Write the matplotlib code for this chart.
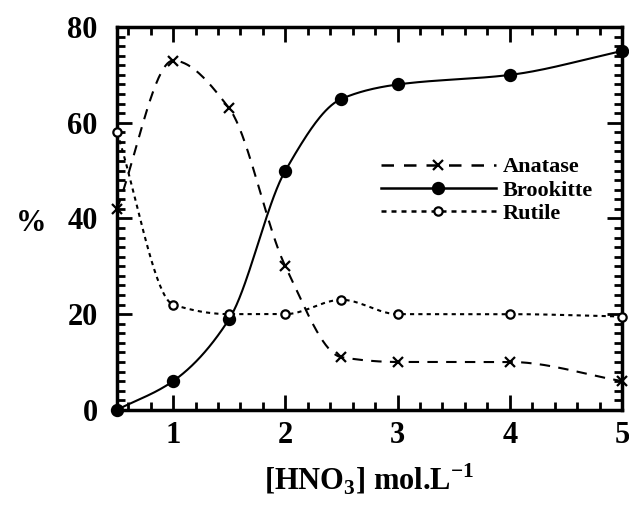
import numpy as np
import matplotlib
matplotlib.use("Agg")
import matplotlib.pyplot as plt
from matplotlib.ticker import MultipleLocator

plt.rcParams['font.family'] = 'Liberation Serif'
plt.rcParams['font.weight'] = 'bold'
plt.rcParams['axes.labelweight'] = 'bold'
plt.rcParams['mathtext.fontset'] = 'custom'
plt.rcParams['mathtext.rm'] = 'Liberation Serif:bold'
plt.rcParams['mathtext.bf'] = 'Liberation Serif:bold'

# concentracion de HNO3 (mol/L)
hno3 = [0.5, 1, 1.5, 2, 2.5, 3, 4, 5]
anatase = [42, 73, 63, 30, 11, 10, 10, 6]
brookite = [0, 6, 19, 50, 65, 68, 70, 75]
rutile = [58, 22, 20, 20, 23, 20, 20, 19.5]


# curva suave monotona entre los puntos (Fritsch-Carlson)
def smooth(x, y, n=40):
    x = np.asarray(x, float)
    y = np.asarray(y, float)
    h = np.diff(x)
    d = np.diff(y) / h
    m = np.zeros_like(y)
    m[0], m[-1] = d[0], d[-1]
    for i in range(1, len(y) - 1):
        if d[i - 1] * d[i] > 0:
            w1 = 2 * h[i] + h[i - 1]
            w2 = h[i] + 2 * h[i - 1]
            m[i] = (w1 + w2) / (w1 / d[i - 1] + w2 / d[i])
    xs, ys = [], []
    t = np.linspace(0, 1, n)
    for i in range(len(h)):
        h00 = 2 * t**3 - 3 * t**2 + 1
        h10 = t**3 - 2 * t**2 + t
        h01 = -2 * t**3 + 3 * t**2
        h11 = t**3 - t**2
        xs.append(x[i] + t * h[i])
        ys.append(h00 * y[i] + h10 * h[i] * m[i] + h01 * y[i + 1] + h11 * h[i] * m[i + 1])
    return np.concatenate(xs), np.concatenate(ys)


fig = plt.figure(figsize=(6.29, 5.11), dpi=100)
ax = fig.add_axes([0.186, 0.198, 0.803, 0.749])

series = [
    (anatase, 'Anatase', (0, (5, 4)), 'x', 'k', 7),
    (brookite, 'Brookitte', '-', 'o', 'k', 8),
    (rutile, 'Rutile', (0, (2, 2)), 'o', 'white', 6),
]
for vals, name, ls, mk, fc, ms in series:
    sx, sy = smooth(hno3, vals)
    ax.plot(sx, sy, color='k', lw=1.5, ls=ls, clip_on=False)
    ax.plot(hno3, vals, ls='none', marker=mk, ms=ms, mfc=fc, mec='k',
            mew=1.6, clip_on=False, zorder=3)
    ax.plot([], [], color='k', lw=1.8, ls=ls, marker=mk, ms=ms, mfc=fc,
            mec='k', mew=1.6, label=name)

ax.set_xlim(0.5, 5)
ax.set_ylim(0, 80)
ax.xaxis.set_major_locator(MultipleLocator(1))
ax.xaxis.set_minor_locator(MultipleLocator(0.2))
ax.yaxis.set_major_locator(MultipleLocator(20))
ax.yaxis.set_minor_locator(MultipleLocator(2))
ax.tick_params(which='both', direction='in', top=True, right=True,
               labelsize=22, width=2)
ax.tick_params(which='major', length=11)
ax.tick_params(which='minor', length=6)
ax.tick_params(axis='x', pad=8)
ax.tick_params(axis='y', pad=14)
for s in ax.spines.values():
    s.set_linewidth(2.5)

ax.set_xlabel('[HNO$_3$] mol.L$^{-1}$', fontsize=22, labelpad=8)
ax.set_ylabel('%', fontsize=22, rotation=0)
ax.yaxis.set_label_coords(-0.17, 0.45)

ax.legend(loc='upper left', bbox_to_anchor=(0.5, 0.69), frameon=False,
          fontsize=16, handlelength=5.2, handletextpad=0.3,
          labelspacing=0.12, borderpad=0)

fig.savefig('out.png', dpi=100)
